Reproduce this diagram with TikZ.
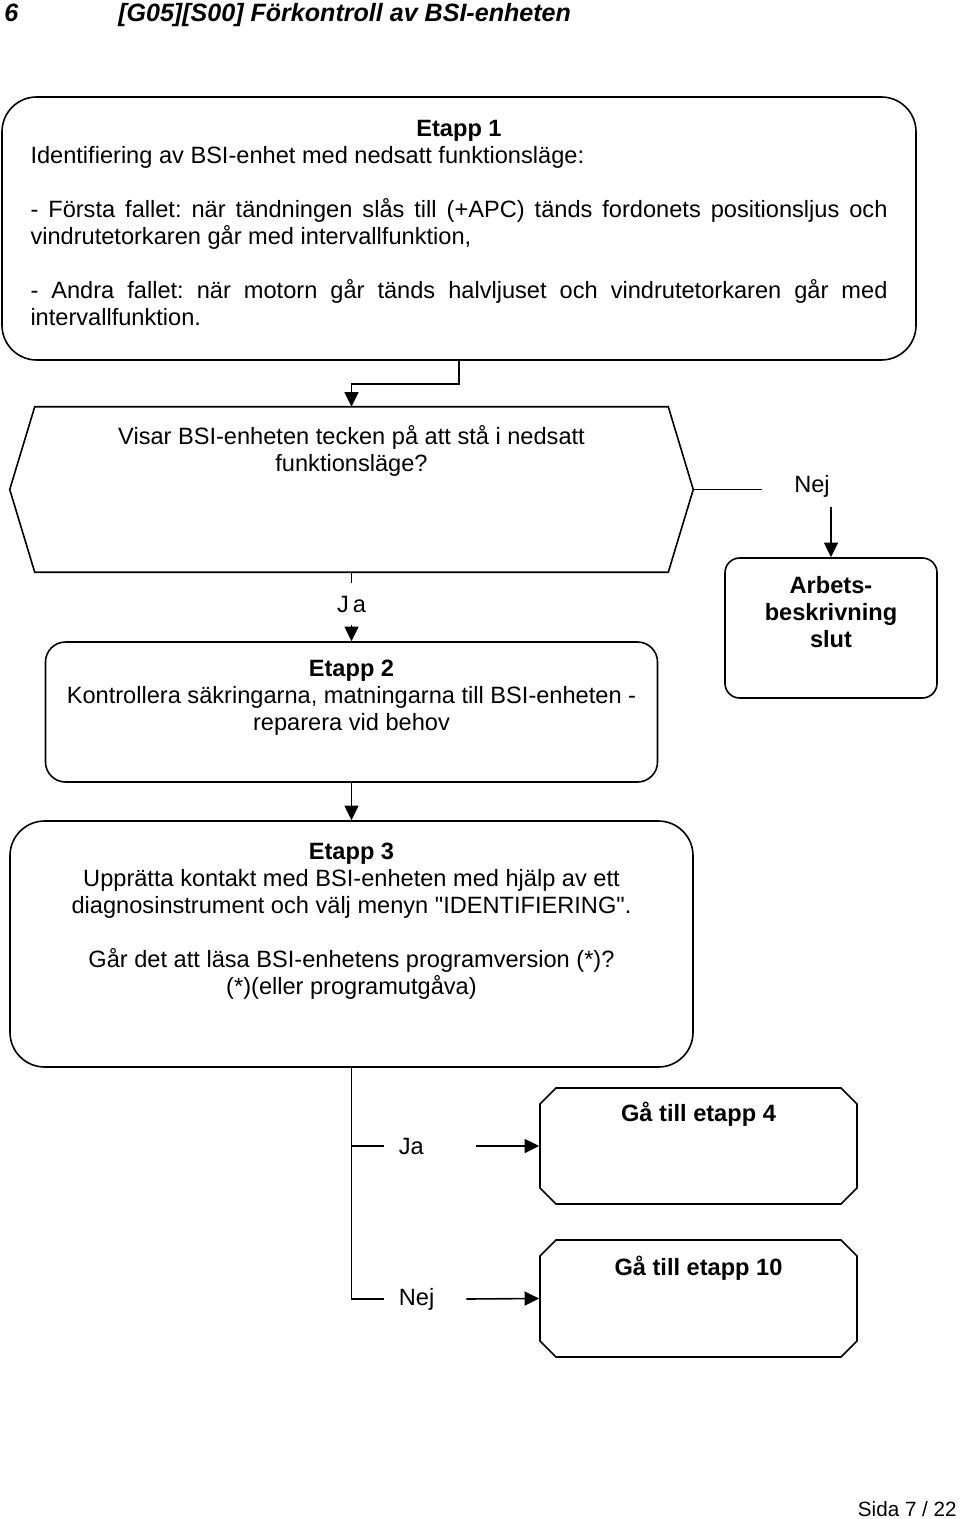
\documentclass[tikz,border=0pt]{standalone}
\usepackage{fontspec}
\setmainfont{Liberation Sans}
\usetikzlibrary{arrows.meta,shapes.misc}
\frenchspacing

\begin{document}
\begin{tikzpicture}[%
		x=0.75pt,y=-0.75pt,
		font=\fontsize{17.7}{20.25}\selectfont,
		every node/.style={inner sep=0pt},
		etapp/.style={draw,line width=1.2pt,rounded corners=#1},
		gabox/.style={draw,line width=1.2pt,chamfered rectangle,
			chamfered rectangle xsep=6pt,chamfered rectangle ysep=6pt},
		conn/.style={line width=1.2pt},
		flow/.style={line width=1.2pt,-{Triangle[width=10.5pt,length=11pt]}}]
		\useasboundingbox (0,0) rectangle (960,1519);
		\node[anchor=base west,font=\fontsize{18.8}{22}\selectfont\bfseries\itshape] (pnum) at (4,22) {6};
		\node[anchor=base west,font=\fontsize{18.8}{22}\selectfont\bfseries\itshape] (rubrik) at (118,22) {[G05][S00] Förkontroll av BSI-enheten};
		\node[etapp=26pt,minimum width=685.5pt,minimum height=197.25pt,inner xsep=21.375pt] (e1) at (459,228.5)
		{\parbox[c][197.25pt][t]{642.75pt}{%
			{\centering\rule{0pt}{30pt}\textbf{Etapp 1}\par}
			Identifiering av BSI-enhet med nedsatt funktionsläge:\par
			\vspace{\baselineskip}
			- Första fallet: när tändningen slås till (+APC) tänds fordonets positionsljus och\linebreak
			vindrutetorkaren går med intervallfunktion,\par
			\vspace{\baselineskip}
			- Andra fallet: när motorn går tänds halvljuset och vindrutetorkaren går med\linebreak
			intervallfunktion.}};
		\node[minimum width=474.75pt,minimum height=123.75pt] (q1) at (351.5,489.5)
		{\parbox[c][123.75pt][t]{474.75pt}{\centering\rule{0pt}{27.75pt}Visar BSI-enheten tecken på att stå i nedsatt\\funktionsläge?}};
		\coordinate (q1tip) at ([xshift=18.75pt]q1.east);
		\draw[conn] (q1.north west) -- (q1.north east) -- (q1tip) -- (q1.south east) -- (q1.south west)
			-- ([xshift=-18.75pt]q1.west) -- cycle;
		\node[etapp=11pt,minimum width=159pt,minimum height=105pt] (slut) at (831,628)
		{\parbox[c][105pt][t]{159pt}{\centering\bfseries\rule{0pt}{26.25pt}Arbets-\\beskrivning\\slut}};
		\node[etapp=15pt,minimum width=459pt,minimum height=105pt] (e2) at (351.5,712)
		{\parbox[c][105pt][t]{459pt}{\centering\rule{0pt}{25.5pt}\textbf{Etapp 2}\\Kontrollera säkringarna, matningarna till BSI-enheten -\\reparera vid behov}};
		\node[etapp=26pt,minimum width=512.25pt,minimum height=184.5pt] (e3) at (351.5,944)
		{\parbox[c][184.5pt][t]{512.25pt}{\centering\rule{0pt}{28.5pt}\textbf{Etapp 3}\\Upprätta kontakt med BSI-enheten med hjälp av ett\\diagnosinstrument och välj menyn \textquotedbl IDENTIFIERING\textquotedbl.\\[\baselineskip]Går det att läsa BSI-enhetens programversion (*)?\\(*)(eller programutgåva)}};
		\node[gabox,minimum width=225.75pt,minimum height=75pt] (g4) at (698.5,1146)
		{\parbox[c][75pt][t]{225.75pt}{\centering\bfseries\rule{0pt}{18.75pt}Gå till etapp 4}};
		\node[gabox,minimum width=225.75pt,minimum height=75.75pt] (g10) at (698.5,1298.5)
		{\parbox[c][75.75pt][t]{225.75pt}{\centering\bfseries\rule{0pt}{20.25pt}Gå till etapp 10}};
		\node[minimum width=75pt,minimum height=31.5pt] (nej1) at (812,486) {Nej};
		\node[minimum height=31.5pt] (ja1) at (351.5,604) {J\,a};
		\node[anchor=west,inner xsep=11pt] (ja2) at (384,1146) {Ja};
		\node[anchor=west,inner xsep=11pt] (nej2) at (384,1299) {Nej};
		\node[anchor=base east,font=\fontsize{15.5}{18}\selectfont] (sida) at (957,1516) {Sida 7 / 22};
		\draw[flow] (e1.south) -- ++(0,23) -| (q1.north);
		\draw[conn] (q1tip) -- (q1tip -| nej1.west);
		\draw[flow] (nej1.south -| slut.north) -- (slut.north);
		\draw[conn] (q1.south) -- (ja1.north);
		\draw[flow] (ja1.south) -- (e2.north);
		\draw[flow] (e2.south) -- (e3.north);
		\draw[conn] (e3.south) |- (nej2.west);
		\draw[conn] (e3.south |- ja2.west) -- (ja2.west);
		\draw[flow] ([xshift=27.75pt]ja2.east) -- (g4.west);
		\draw[flow] ([xshift=12.75pt]nej2.east) -- (g10.west);
	\end{tikzpicture}
\end{document}
